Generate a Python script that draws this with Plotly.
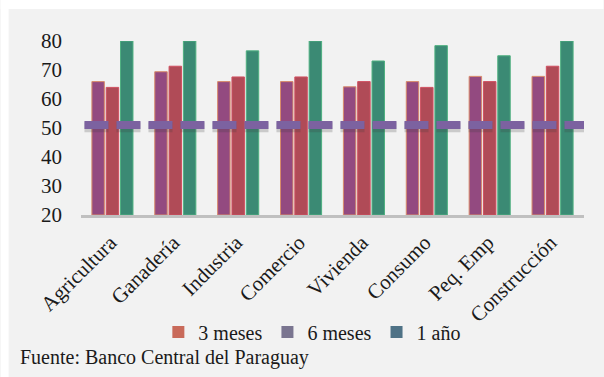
import plotly.graph_objects as go

categorias = ["Agricultura", "Ganadería", "Industria", "Comercio",
              "Vivienda", "Consumo", "Peq. Emp", "Construcción"]
tres_meses = [66.0, 69.4, 66.0, 66.0, 64.2, 66.0, 67.8, 67.8]
seis_meses = [64.0, 71.3, 67.6, 67.6, 66.0, 64.0, 66.0, 71.3]
un_anio = [80.0, 80.0, 76.6, 80.0, 73.1, 78.4, 74.9, 80.0]
umbral = 51.0

y_ticks = [20, 30, 40, 50, 60, 70, 80]

FONT = "'Liberation Serif', 'DejaVu Serif', 'Times New Roman', serif"
pos = list(range(len(categorias)))

# plot area geometry in pixels (used for paper-referenced decorations)
W, H = 604, 377
L, R, T, B = 80.5, 19.5, 41, 162
pw, ph = W - L - R, H - T - B


def px_x(x):
    return (x - L) / pw


def px_y(y):
    return (H - B - y) / ph


fig = go.Figure()

series = [
    ("3 meses", tres_meses, "#934a80", "#d88a6a", "#c96a5a"),
    ("6 meses", seis_meses, "#b04b57", "#d05060", "#7a7590"),
    ("1 año", un_anio, "#3b8a74", "#4fb080", "#4f7286"),
]

for name, vals, body, edge, legend_col in series:
    fig.add_trace(go.Bar(
        x=pos, y=[v - 20 for v in vals], base=20, name=name,
        marker=dict(color=body, line=dict(color=edge, width=1)),
        showlegend=False, offsetgroup=name,
    ))

# legend swatches share the offset group of their series so they take no slot
for name, vals, body, edge, legend_col in series:
    fig.add_trace(go.Bar(
        x=[None], y=[None], name=name,
        marker=dict(color=legend_col, line=dict(color=legend_col, width=0)),
        showlegend=True, offsetgroup=name,
    ))

# threshold line drawn as thick dashes with a soft shadow beneath
x_span = [-0.445, len(categorias) - 0.445]
fig.add_trace(go.Scatter(
    x=x_span, y=[umbral - 0.75] * 2, mode="lines",
    line=dict(color="rgba(60,60,60,0.22)", width=10, dash="24px,8px"),
    showlegend=False, hoverinfo="skip",
))
fig.add_trace(go.Scatter(
    x=x_span, y=[umbral] * 2, mode="lines",
    line=dict(color="#7c62a0", width=8, dash="24px,8px"),
    showlegend=False, hoverinfo="skip",
))

fig.update_layout(
    width=W, height=H,
    margin=dict(l=L, r=R, t=T, b=B, pad=0),
    paper_bgcolor="#f2f2f2",
    plot_bgcolor="rgba(0,0,0,0)",
    barmode="group", bargap=0.317, bargroupgap=0.13,
    font=dict(family=FONT, size=20, color="#1a1a1a"),
    xaxis=dict(
        range=[-0.5, len(categorias) - 0.5],
        tickvals=pos, ticktext=categorias, tickangle=-45,
        showgrid=False, zeroline=False,
        showline=True, linecolor="#c0c0c0", linewidth=3,
        ticks="", tickfont=dict(family=FONT, size=21, color="#1a1a1a"),
        ticklabelshift=-2, ticklabelstandoff=4,
    ),
    yaxis=dict(
        range=[20, 80], tickvals=y_ticks,
        showgrid=False, zeroline=False, showline=False,
        ticks="", tickfont=dict(family=FONT, size=21, color="#1a1a1a"),
        ticklabelstandoff=18,
    ),
    legend=dict(
        orientation="h", x=px_x(158), y=px_y(332), xanchor="left", yanchor="middle",
        font=dict(family=FONT, size=20, color="#1a1a1a"),
        bgcolor="rgba(0,0,0,0)", itemwidth=30, traceorder="normal",
        tracegroupgap=0, borderwidth=0,
    ),
    shapes=[
        dict(type="rect", xref="paper", yref="paper", layer="below",
             x0=px_x(0), x1=px_x(8), y0=px_y(W), y1=px_y(-5),
             fillcolor="white", line=dict(width=0)),
        dict(type="rect", xref="paper", yref="paper", layer="below",
             x0=px_x(0), x1=px_x(W), y0=px_y(9), y1=px_y(-5),
             fillcolor="white", line=dict(width=0)),
    ],
    annotations=[
        dict(text="Fuente: Banco Central del Paraguay", xref="paper", yref="paper",
             x=px_x(17), y=px_y(357), xanchor="left", yanchor="middle",
             showarrow=False, font=dict(family=FONT, size=20, color="#1a1a1a")),
    ],
)

fig.write_html("out.html")
